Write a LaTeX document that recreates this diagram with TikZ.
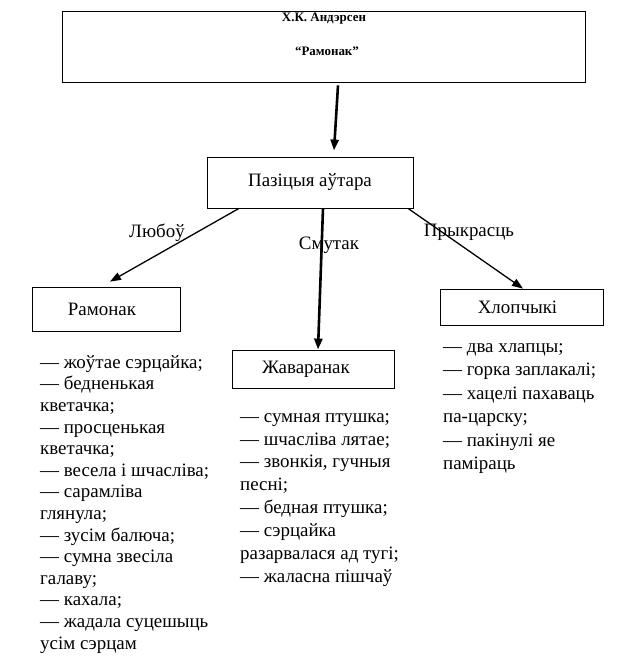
\documentclass[tikz,border=0pt]{standalone}
\usepackage{fontspec}
\setmainfont{Liberation Serif}
\usetikzlibrary{arrows.meta}
\begin{document}
\begin{tikzpicture}[x=1bp,y=-1bp,
  box/.style={draw,line width=0.8bp,inner sep=0pt,font=\fontsize{19}{22}\selectfont},
  toptext/.style={font=\bfseries\fontsize{13}{15}\selectfont,inner sep=0pt},
  lbl/.style={font=\fontsize{19}{22}\selectfont,inner sep=0pt},
  thickarrow/.style={line width=2.6bp,-{Triangle[length=11bp,width=8bp]}},
  thinarrow/.style={line width=1.3bp,-{Triangle[length=11bp,width=8bp]}},
  listtext/.style={align=left,inner sep=0pt,anchor=north west}
]
\useasboundingbox (0,0) rectangle (640,669);
\node[box,minimum width=523bp,minimum height=71bp] (top) at (323.5,46.5) {};
\node[toptext] (author) at (324,19) {Х.К. Андэрсен};
\node[toptext] (title) at (327,51) {“Рамонак”};
\node[box,minimum width=206bp,minimum height=51bp] (paz) at (310,182.5) {Пазіцыя аўтара};
\node[box,minimum width=148bp,minimum height=44bp] (ram) at (106,309) {\hspace*{-8bp}Рамонак};
\node[box,minimum width=162bp,minimum height=38bp] (zhav) at (313,369) {\hspace*{-14bp}Жаваранак};
\node[box,minimum width=163bp,minimum height=36bp] (khl) at (521.5,307) {\hspace*{-8bp}Хлопчыкі};

\draw[thickarrow] ([shift={(14.5,3)}]top.south) -- ([shift={(24,-6)}]paz.north);
\draw[thinarrow] ([shift={(-71,0)}]paz.south) -- ([shift={(4,-5)}]ram.north);
\draw[thickarrow] ([shift={(13,0)}]paz.south) -- ([shift={(5,0)}]zhav.north);
\draw[thinarrow] ([shift={(98,0)}]paz.south) -- ([shift={(1.5,0)}]khl.north);

\node[lbl] (l1) at (157,233) {Любоў};
\node[lbl] (l2) at (329,245) {Смутак};
\node[lbl] (l3) at (469,232) {Прыкрасць};

\node[listtext,font=\fontsize{19}{21.7}\selectfont] (list1) at (40,355) {— жоўтае сэрцайка;\\— бедненькая\\кветачка;\\— просценькая\\кветачка;\\— весела і шчасліва;\\— сарамліва\\глянула;\\— зусім балюча;\\— сумна звесіла\\галаву;\\— кахала;\\— жадала суцешыць\\усім сэрцам};
\node[listtext,font=\fontsize{19}{23}\selectfont] (list2) at (240,413) {— сумная птушка;\\— шчасліва лятае;\\— звонкія, гучныя\\песні;\\— бедная птушка;\\— сэрцайка\\разарвалася ад тугі;\\— жаласна пішчаў};
\node[listtext,font=\fontsize{19}{23.6}\selectfont] (list3) at (443,343) {— два хлапцы;\\— горка заплакалі;\\— хацелі пахаваць\\па-царску;\\— пакінулі яе\\паміраць};
\end{tikzpicture}
\end{document}
